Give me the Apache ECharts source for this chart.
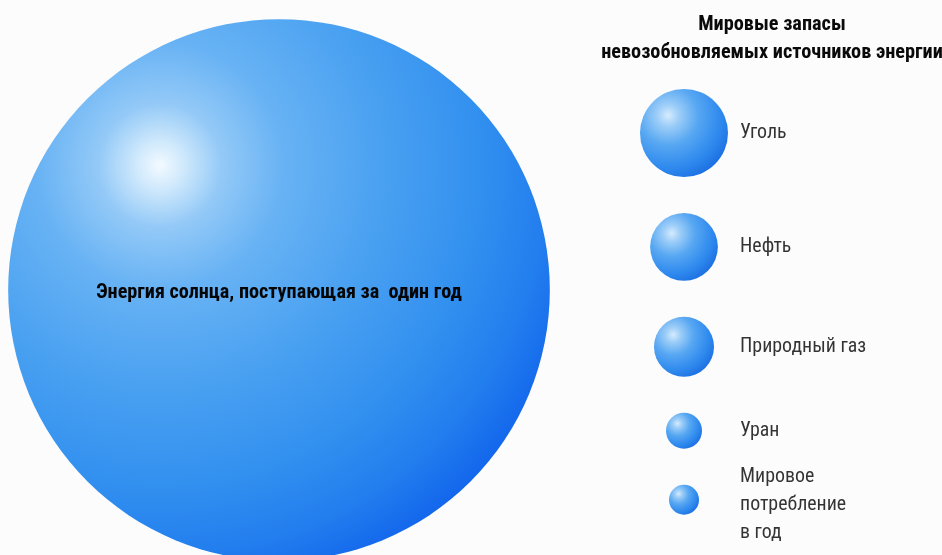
<!DOCTYPE html>
<html>
<head>
<meta charset="utf-8">
<script src="https://cdn.jsdelivr.net/npm/echarts@6/dist/echarts.min.js"></script>
<style>
html,body{margin:0;padding:0;background:#fcfcfc;}
#chart{width:942px;height:555px;}
</style>
</head>
<body>
<div id="chart"></div>
<script>
// ---- data ----
const titleLines = ['Мировые запасы', 'невозобновляемых источников энергии'];
const sunName = 'Энергия солнца, поступающая за  один год';
const sunValue = 326;                 // relative to world annual consumption
const sourceNames = ['Уголь', 'Нефть', 'Природный газ', 'Уран', 'Мировое\nпотребление\nв год'];
const sourceValues = [8.6, 5.1, 4.0, 1.44, 1];

// ---- layout / style ----
const FONT = "'Roboto Condensed', 'DejaVu Sans Condensed', sans-serif";
const ctx = document.createElement('canvas').getContext('2d');
function fitSize(text, weight, target) {
  ctx.font = weight + ' 100px ' + FONT;
  return Math.round(1000 * target / ctx.measureText(text).width) / 10;
}
const titleSize = fitSize(titleLines[1], 'bold', 342);
const labelSize = fitSize('Природный газ', 'normal', 126);
const sunSize = fitSize(sunName, 'bold', 366);

const unit = 30;                       // diameter of a bubble with value 1
const sizeOf = v => unit * Math.sqrt(v);
const sunPos = [279, 290];
const colX = 684, labelX = 740, firstCenter = 133, gap = 36;

const colY = [];
let y = firstCenter;
sourceValues.forEach((v, i) => {
  if (i > 0) y += sizeOf(sourceValues[i - 1]) / 2 + gap + sizeOf(v) / 2;
  colY.push(y);
});

const bigGrad = new echarts.graphic.RadialGradient(0.28, 0.27, 0.82, [
  {offset: 0, color: '#f3faff'},
  {offset: 0.05, color: '#d2eafc'},
  {offset: 0.14, color: '#93c9f7'},
  {offset: 0.28, color: '#67b2f4'},
  {offset: 0.5, color: '#4aa1f1'},
  {offset: 0.72, color: '#3290ef'},
  {offset: 0.88, color: '#227dee'},
  {offset: 1, color: '#1266ec'}
]);
const smallGrad = () => new echarts.graphic.RadialGradient(0.32, 0.3, 0.85, [
  {offset: 0, color: '#d6ebfd'},
  {offset: 0.15, color: '#9ccdf8'},
  {offset: 0.4, color: '#57a7f2'},
  {offset: 0.7, color: '#2f8aee'},
  {offset: 0.9, color: '#1d70e2'},
  {offset: 1, color: '#1459c6'}
]);

const chart = echarts.init(document.getElementById('chart'), null, {renderer: 'canvas'});
chart.setOption({
  backgroundColor: '#fcfcfc',
  animation: false,
  title: {
    text: titleLines.join('\n'),
    left: 767, top: 6, textAlign: 'center',
    textStyle: {fontFamily: FONT, fontWeight: 'bold', fontSize: titleSize, lineHeight: 28, color: '#0a0a0a', align: 'center'}
  },
  grid: {left: 0, right: 0, top: 0, bottom: 0},
  xAxis: {type: 'value', min: 0, max: 942, show: false},
  yAxis: {type: 'value', min: 0, max: 555, inverse: true, show: false},
  series: [
    {
      type: 'scatter', name: 'sun', clip: false,
      data: [{name: sunName, value: [sunPos[0], sunPos[1], sunValue]}],
      symbolSize: d => sizeOf(d[2]),
      itemStyle: {color: bigGrad, opacity: 1},
      label: {show: true, position: 'inside', formatter: '{b}', fontFamily: FONT, fontWeight: 'bold', fontSize: sunSize, color: '#050505', offset: [0, 3]},
      z: 1
    },
    {
      type: 'scatter', name: 'sources', clip: false,
      data: sourceNames.map((n, i) => ({name: n, value: [colX, colY[i], sourceValues[i]], itemStyle: {color: smallGrad()}})),
      symbolSize: d => sizeOf(d[2]),
      itemStyle: {opacity: 1},
      z: 2
    },
    {
      type: 'scatter', name: 'labels', clip: false,
      data: sourceNames.map((n, i) => ({
        name: n, value: [labelX, colY[i]],
        label: {offset: [0, n.indexOf('\n') >= 0 ? 5 : 0]}
      })),
      symbolSize: 0,
      label: {show: true, position: 'right', distance: 0, formatter: '{b}', fontFamily: FONT, fontSize: labelSize, lineHeight: 28, color: '#000'},
      z: 3
    }
  ]
});
</script>
</body>
</html>
